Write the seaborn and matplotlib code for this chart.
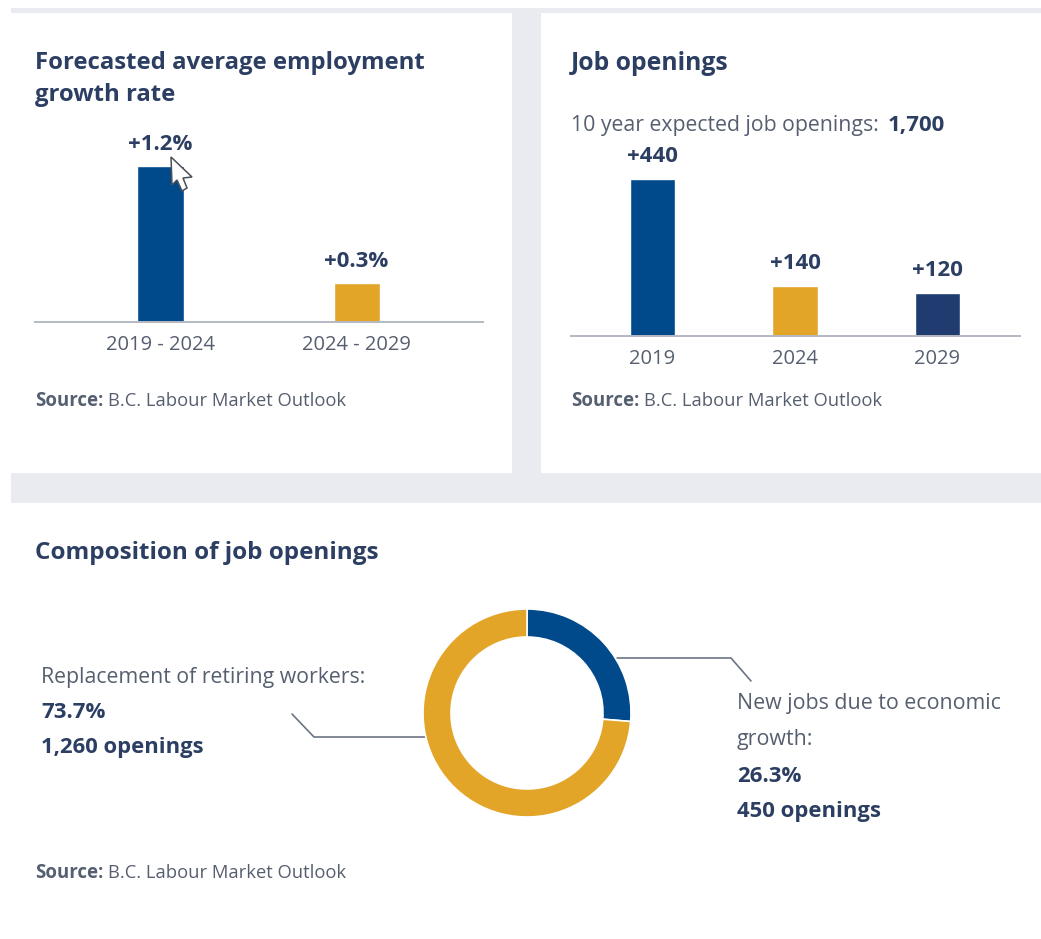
import matplotlib
matplotlib.use("Agg")
import matplotlib.pyplot as plt
from matplotlib.lines import Line2D
from matplotlib.patches import Polygon, Rectangle
import pandas as pd
import seaborn as sns

W, H = 1041, 939
NAVY = "#004a8c"
GOLD = "#e3a528"
DARK = "#1f3b70"
TEXT = "#2c3f63"
GREY = "#565f70"
RULE = "#b4b9c2"
GUTTER = "#e9ebf1"

# growth rate chart
growth_periods = ["2019 - 2024", "2024 - 2029"]
growth_values = [1.2, 0.3]
growth_labels = ["+1.2%", "+0.3%"]

# job openings chart
opening_years = ["2019", "2024", "2029"]
opening_values = [440, 140, 120]
opening_labels = ["+440", "+140", "+120"]

# composition donut
composition_names = ["New jobs due to economic growth", "Replacement of retiring workers"]
composition_shares = [26.3, 73.7]

sns.set_theme(style="white")
plt.rcParams["font.family"] = ["Open Sans", "DejaVu Sans"]


def px_axes(fig, left, top, right, bottom):
    # axes placed by pixel box, y measured from the top of the picture
    return fig.add_axes([left / W, 1 - bottom / H, (right - left) / W, (bottom - top) / H])


def put(fig, x, y, s, **kw):
    kw.setdefault("va", "center")
    kw.setdefault("color", TEXT)
    return fig.text(x / W, 1 - y / H, s, **kw)


def bar_panel(fig, box, names, values, labels, colors, xlim, ymax, width, pad):
    ax = px_axes(fig, *box)
    df = pd.DataFrame({"name": names, "value": values})
    sns.barplot(data=df, x="name", y="value", hue="name", palette=colors, legend=False,
                width=width, saturation=1, ax=ax)
    ax.set_xlim(*xlim)
    ax.set_ylim(0, ymax)
    ax.set_xlabel("")
    ax.set_ylabel("")
    ax.set_yticks([])
    ax.patch.set_alpha(0)
    sns.despine(ax=ax, left=True)
    ax.spines["bottom"].set_color(RULE)
    ax.spines["bottom"].set_linewidth(1.4)
    ax.tick_params(axis="x", length=0, pad=9, labelsize=14.5, labelcolor=GREY)
    for cont, lab in zip(ax.containers, labels):
        ax.bar_label(cont, labels=[lab], padding=pad, fontsize=16, fontweight="bold", color=TEXT)
    return ax


fig = plt.figure(figsize=(W / 100, H / 100), dpi=100, facecolor="white")

# page background and the white cards
back = fig.add_axes([0, 0, 1, 1], zorder=-5)
back.set_xlim(0, W)
back.set_ylim(H, 0)
back.axis("off")
back.add_patch(Rectangle((11, 8), W - 11, 926 - 8, color=GUTTER, lw=0))
back.add_patch(Rectangle((11, 13), 501, 460, color="white", lw=0))
back.add_patch(Rectangle((541, 13), 500, 460, color="white", lw=0))
back.add_patch(Rectangle((11, 503), W - 11, 423, color="white", lw=0))

bar_panel(fig, (35, 120, 483, 322), growth_periods, growth_values, growth_labels,
          [NAVY, GOLD], (-0.64, 1.645), 201.5 / 130, 0.235, 7.5)
bar_panel(fig, (571, 130, 1020, 336), opening_years, opening_values, opening_labels,
          [NAVY, GOLD, DARK], (-0.572, 2.579), 205 * 440 / 156, 0.32, 8.5)

# donut, clockwise from 12 o'clock
ax = px_axes(fig, 423, 609, 631, 817)
ax.pie(composition_shares, colors=[NAVY, GOLD], startangle=90, counterclock=False, radius=1,
       wedgeprops={"width": 28 / 104, "edgecolor": "white", "linewidth": 1.2})
ax.set_xlim(-1, 1)
ax.set_ylim(-1, 1)
ax.patch.set_alpha(0)

# leader lines
back.add_line(Line2D([617, 731, 751], [658, 658, 681], color="#6b7484", lw=1.2))
back.add_line(Line2D([425, 314, 292], [737, 737, 714], color="#6b7484", lw=1.2))

# mouse pointer left in the screenshot
cursor = fig.add_axes([0, 0, 1, 1], zorder=5)
cursor.set_xlim(0, W)
cursor.set_ylim(H, 0)
cursor.axis("off")
cursor.add_patch(Polygon([(171, 157), (172, 185), (177, 180), (182, 191), (187, 188),
                          (183, 178), (192, 177)], closed=True, facecolor="white",
                         edgecolor="#4a4f5a", lw=1.1))

# titles
put(fig, 35, 63, "Forecasted average employment", fontsize=17.2, fontweight="bold")
put(fig, 35, 95, "growth rate", fontsize=17.2, fontweight="bold")
put(fig, 571, 63, "Job openings", fontsize=17.8, fontweight="bold")
put(fig, 35, 553, "Composition of job openings", fontsize=17.5, fontweight="bold")

put(fig, 571, 126, "10 year expected job openings:", fontsize=15.35, color=GREY)
put(fig, 888, 126, "1,700", fontsize=16, fontweight="bold")

# sources
for sx, sy in [(35, 401), (571, 401), (35, 873)]:
    put(fig, sx, sy, "Source:", fontsize=13.4, fontweight="bold", color=GREY)
    put(fig, sx + 73, sy, "B.C. Labour Market Outlook", fontsize=13.2, color=GREY)

# donut labels
put(fig, 41, 677, "Replacement of retiring workers:", fontsize=15.3, color=GREY)
put(fig, 41, 712, "73.7%", fontsize=16, fontweight="bold")
put(fig, 41, 748, "1,260 openings", fontsize=15.8, fontweight="bold")
put(fig, 737, 704, "New jobs due to economic", fontsize=15.4, color=GREY)
put(fig, 737, 740, "growth:", fontsize=15.4, color=GREY)
put(fig, 737, 776, "26.3%", fontsize=16, fontweight="bold")
put(fig, 737, 811, "450 openings", fontsize=15.9, fontweight="bold")

fig.savefig("out.png", dpi=100, facecolor="white")
